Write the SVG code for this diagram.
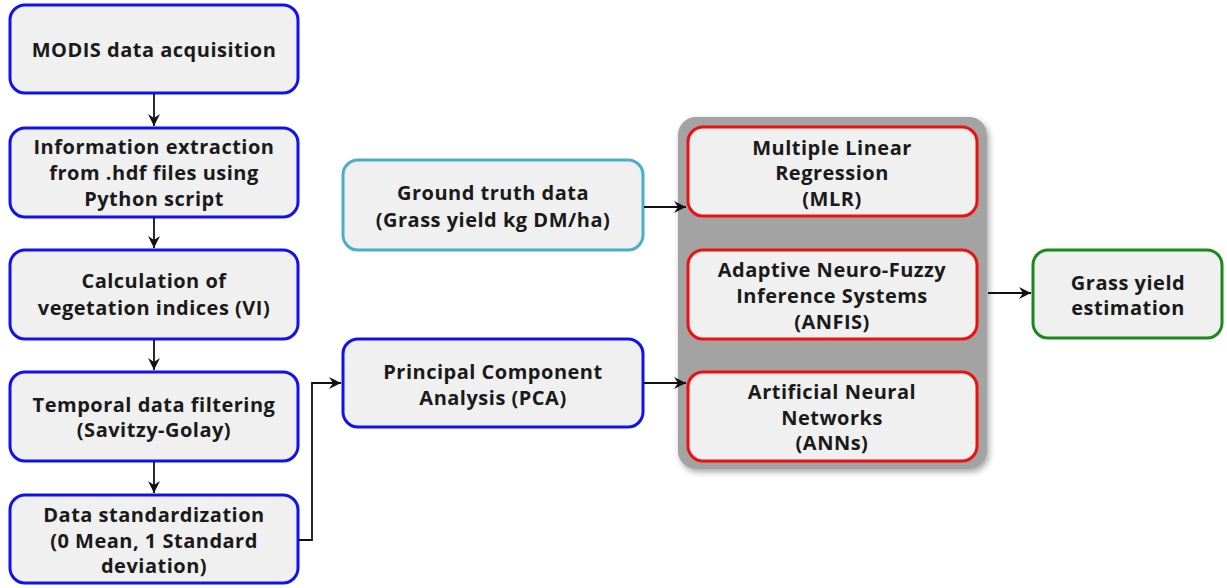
<svg xmlns="http://www.w3.org/2000/svg" width="1227" height="588" viewBox="0 0 1227 588">
<style>
.box{fill:#f0f0f0;stroke-width:3}
.blue{stroke:#1010f0}
.cyan{stroke:#4aaec6}
.red{stroke:#ee1010}
.green{stroke:#1a8a1a}
text{font-family:"Open Sans","Liberation Sans",sans-serif;font-weight:bold;font-size:20px;letter-spacing:0.5px;fill:#1a1a1a;text-anchor:middle}
.conn{fill:none;stroke:#111;stroke-width:1.8}
</style>
<defs>
<marker id="ah" markerWidth="14" markerHeight="12" refX="12" refY="6" orient="auto" markerUnits="userSpaceOnUse">
<path d="M0,0 L12,6 L0,12 L4,6 Z" fill="#111"/>
</marker>
<filter id="sh" x="-5%" y="-5%" width="115%" height="115%">
<feGaussianBlur in="SourceAlpha" stdDeviation="3"/>
<feOffset dx="2" dy="3"/>
<feComponentTransfer><feFuncA type="linear" slope="0.35"/></feComponentTransfer>
<feMerge><feMergeNode/><feMergeNode in="SourceGraphic"/></feMerge>
</filter>
</defs>
<rect width="1227" height="588" fill="#ffffff"/>

<g id="container">
<rect x="678" y="117" width="309" height="352" rx="18" fill="#a3a3a3" filter="url(#sh)"/>
</g>

<g id="modis">
<rect class="box blue" x="10" y="5" width="288" height="88" rx="15"/>
<text x="154" y="57">MODIS data acquisition</text>
</g>
<g id="extract">
<rect class="box blue" x="10" y="128" width="288" height="89" rx="15"/>
<text x="154" y="154">Information extraction</text>
<text x="154" y="180">from .hdf files using</text>
<text x="154" y="206">Python script</text>
</g>
<g id="vi">
<rect class="box blue" x="10" y="250" width="288" height="89" rx="15"/>
<text x="154" y="288">Calculation of</text>
<text x="154" y="315">vegetation indices (VI)</text>
</g>
<g id="filter">
<rect class="box blue" x="10" y="372" width="288" height="89" rx="15"/>
<text x="154" y="412">Temporal data filtering</text>
<text x="154" y="437">(Savitzy-Golay)</text>
</g>
<g id="standard">
<rect class="box blue" x="10" y="495" width="288" height="88" rx="15"/>
<text x="154" y="522">Data standardization</text>
<text x="154" y="548">(0 Mean, 1 Standard</text>
<text x="154" y="573">deviation)</text>
</g>
<g id="ground">
<rect class="box cyan" x="343" y="160" width="300" height="90" rx="15"/>
<text x="493" y="200">Ground truth data</text>
<text x="493" y="227">(Grass yield kg DM/ha)</text>
</g>
<g id="pca">
<rect class="box blue" x="343" y="339" width="300" height="88" rx="15"/>
<text x="493" y="379">Principal Component</text>
<text x="493" y="405">Analysis (PCA)</text>
</g>
<g id="mlr">
<rect class="box red" x="688" y="127" width="289" height="89" rx="15"/>
<text x="832" y="155">Multiple Linear</text>
<text x="832" y="180">Regression</text>
<text x="832" y="206">(MLR)</text>
</g>
<g id="anfis">
<rect class="box red" x="688" y="250" width="289" height="89" rx="15"/>
<text x="832" y="277">Adaptive Neuro-Fuzzy</text>
<text x="832" y="303">Inference Systems</text>
<text x="832" y="329">(ANFIS)</text>
</g>
<g id="anns">
<rect class="box red" x="688" y="372" width="289" height="89" rx="15"/>
<text x="832" y="399">Artificial Neural</text>
<text x="832" y="425">Networks</text>
<text x="832" y="450">(ANNs)</text>
</g>
<g id="estimation">
<rect class="box green" x="1033" y="250" width="189" height="88" rx="15"/>
<text x="1128" y="290">Grass yield</text>
<text x="1128" y="315">estimation</text>
</g>

<g id="connectors">
<line class="conn" x1="154" y1="94" x2="154" y2="126" marker-end="url(#ah)"/>
<line class="conn" x1="154" y1="218" x2="154" y2="248" marker-end="url(#ah)"/>
<line class="conn" x1="154" y1="340" x2="154" y2="370" marker-end="url(#ah)"/>
<line class="conn" x1="154" y1="462" x2="154" y2="493" marker-end="url(#ah)"/>
<polyline class="conn" points="299,540 312,540 312,383 341,383" marker-end="url(#ah)"/>
<line class="conn" x1="644" y1="207" x2="686" y2="207" marker-end="url(#ah)"/>
<line class="conn" x1="644" y1="383" x2="686" y2="383" marker-end="url(#ah)"/>
<line class="conn" x1="988" y1="293" x2="1031" y2="293" marker-end="url(#ah)"/>
</g>
</svg>
